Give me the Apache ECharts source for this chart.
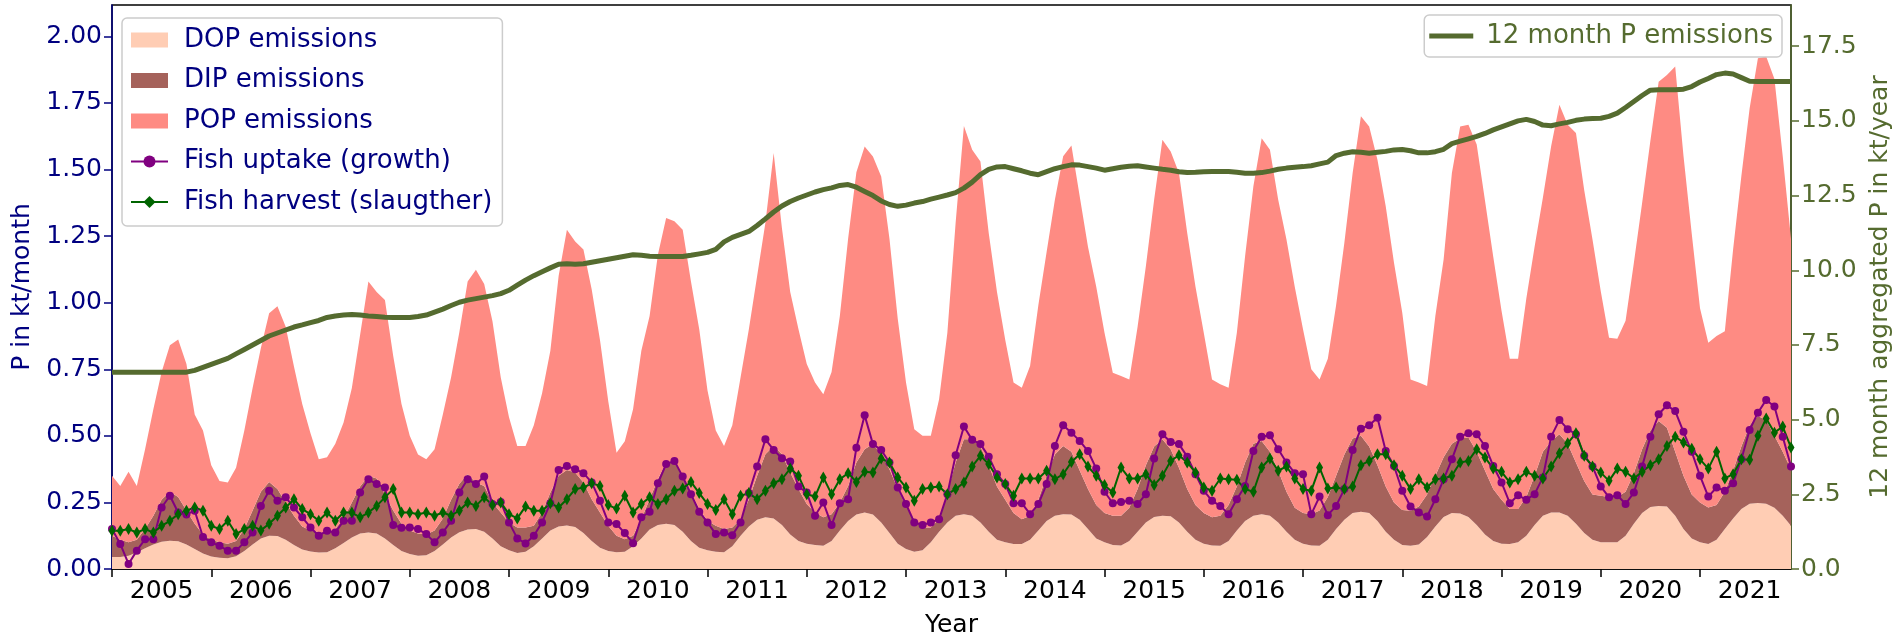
<!DOCTYPE html>
<html>
<head>
<meta charset="utf-8">
<title>P emissions and fish uptake</title>
<script src="https://cdn.jsdelivr.net/npm/echarts@6/dist/echarts.min.js"></script>
<style>
  html, body { margin: 0; padding: 0; background: #fff; }
  #chart { width: 1902px; height: 643px; }
</style>
</head>
<body>
<div id="chart"></div>
<script>
// monthly categories, Jan 2005 .. Dec 2021
const months = []
for (let y = 2005; y <= 2021; y++) {
  for (let m = 1; m <= 12; m++) months.push(y + '-' + String(m).padStart(2, '0'))
}

const dopLevel = [
  0.045, 0.045, 0.05, 0.062, 0.078, 0.092, 0.102, 0.106, 0.104, 0.092, 0.075, 0.058,
  0.047, 0.042, 0.04, 0.048, 0.068, 0.092, 0.115, 0.125, 0.124, 0.11, 0.09, 0.073,
  0.066, 0.062, 0.063, 0.078, 0.098, 0.118, 0.133, 0.137, 0.133, 0.115, 0.09, 0.068,
  0.056, 0.05, 0.052, 0.068, 0.092, 0.118, 0.138, 0.148, 0.15, 0.14, 0.115, 0.085,
  0.07, 0.06, 0.065, 0.085, 0.115, 0.145, 0.16, 0.163, 0.158, 0.135, 0.105, 0.08,
  0.068, 0.0625, 0.065, 0.085, 0.115, 0.148, 0.165, 0.17, 0.165, 0.14, 0.105, 0.08,
  0.07, 0.065, 0.0625, 0.085, 0.125, 0.16, 0.185, 0.194, 0.19, 0.165, 0.13, 0.105,
  0.095, 0.09, 0.087, 0.105, 0.145, 0.18, 0.205, 0.212, 0.205, 0.175, 0.135, 0.095,
  0.075, 0.065, 0.07, 0.1, 0.14, 0.175, 0.2, 0.206, 0.2, 0.175, 0.14, 0.11,
  0.1, 0.094, 0.094, 0.11, 0.145, 0.18, 0.2, 0.206, 0.205, 0.185, 0.15, 0.115,
  0.1, 0.09, 0.088, 0.105, 0.14, 0.175, 0.195, 0.2, 0.198, 0.175, 0.14, 0.11,
  0.095, 0.088, 0.087, 0.105, 0.145, 0.18, 0.2, 0.206, 0.2, 0.175, 0.14, 0.11,
  0.095, 0.088, 0.087, 0.11, 0.15, 0.185, 0.21, 0.215, 0.21, 0.18, 0.14, 0.11,
  0.09, 0.087, 0.092, 0.12, 0.16, 0.195, 0.21, 0.208, 0.195, 0.165, 0.13, 0.105,
  0.095, 0.094, 0.1, 0.125, 0.165, 0.2, 0.212, 0.212, 0.2, 0.17, 0.135, 0.11,
  0.1, 0.1, 0.1, 0.125, 0.17, 0.21, 0.233, 0.237, 0.235, 0.2, 0.15, 0.115,
  0.1, 0.094, 0.11, 0.15, 0.19, 0.225, 0.245, 0.248, 0.245, 0.23, 0.2, 0.162
]
const dipLevel = [
  0.125, 0.11, 0.1, 0.11, 0.15, 0.2, 0.26, 0.29, 0.27, 0.22, 0.17, 0.13,
  0.11, 0.1, 0.095, 0.105, 0.15, 0.22, 0.29, 0.327, 0.3, 0.25, 0.2, 0.16,
  0.145, 0.138, 0.137, 0.15, 0.19, 0.25, 0.31, 0.35, 0.34, 0.28, 0.22, 0.17,
  0.145, 0.133, 0.13, 0.145, 0.19, 0.26, 0.32, 0.356, 0.325, 0.312, 0.25, 0.212,
  0.175, 0.156, 0.156, 0.162, 0.212, 0.287, 0.35, 0.372, 0.362, 0.325, 0.262, 0.212,
  0.162, 0.125, 0.112, 0.125, 0.187, 0.262, 0.337, 0.4, 0.406, 0.35, 0.287, 0.225,
  0.181, 0.162, 0.15, 0.156, 0.187, 0.262, 0.35, 0.431, 0.462, 0.431, 0.362, 0.3,
  0.244, 0.212, 0.194, 0.206, 0.25, 0.312, 0.4, 0.45, 0.469, 0.431, 0.375, 0.3,
  0.237, 0.187, 0.156, 0.156, 0.187, 0.287, 0.4, 0.487, 0.487, 0.46, 0.39, 0.31,
  0.26, 0.21, 0.187, 0.2, 0.26, 0.35, 0.43, 0.462, 0.44, 0.37, 0.3, 0.24,
  0.21, 0.2, 0.2, 0.23, 0.3, 0.39, 0.46, 0.487, 0.45, 0.38, 0.3, 0.24,
  0.21, 0.194, 0.2, 0.24, 0.31, 0.4, 0.47, 0.481, 0.44, 0.37, 0.29, 0.23,
  0.21, 0.206, 0.22, 0.27, 0.35, 0.43, 0.49, 0.5, 0.46, 0.39, 0.31, 0.25,
  0.222, 0.219, 0.235, 0.28, 0.35, 0.42, 0.47, 0.49, 0.494, 0.44, 0.37, 0.3,
  0.26, 0.225, 0.225, 0.27, 0.35, 0.44, 0.48, 0.506, 0.47, 0.4, 0.33, 0.28,
  0.275, 0.27, 0.27, 0.29, 0.36, 0.45, 0.52, 0.556, 0.53, 0.44, 0.35, 0.28,
  0.25, 0.231, 0.24, 0.29, 0.37, 0.46, 0.54, 0.575, 0.56, 0.5, 0.44, 0.375
]
const totalLevel = [
  0.35, 0.312, 0.365, 0.312, 0.45, 0.6, 0.74, 0.84, 0.862, 0.77, 0.58, 0.52,
  0.39, 0.33, 0.325, 0.38, 0.52, 0.68, 0.83, 0.96, 0.987, 0.91, 0.76, 0.62,
  0.51, 0.412, 0.42, 0.47, 0.55, 0.68, 0.88, 1.08, 1.04, 1.01, 0.8, 0.62,
  0.5, 0.43, 0.412, 0.45, 0.58, 0.72, 0.89, 1.08, 1.124, 1.07, 0.93, 0.72,
  0.57, 0.462, 0.462, 0.54, 0.66, 0.82, 1.1, 1.274, 1.23, 1.2, 1.05, 0.86,
  0.63, 0.437, 0.48, 0.6, 0.82, 0.95, 1.18, 1.318, 1.306, 1.274, 1.08, 0.9,
  0.67, 0.52, 0.462, 0.54, 0.72, 0.9, 1.1, 1.3, 1.562, 1.28, 1.04, 0.9,
  0.77, 0.7, 0.656, 0.74, 0.95, 1.24, 1.49, 1.587, 1.549, 1.474, 1.24, 0.94,
  0.7, 0.525, 0.5, 0.5, 0.637, 0.887, 1.3, 1.664, 1.574, 1.53, 1.262, 1.04,
  0.86, 0.7, 0.681, 0.762, 0.99, 1.19, 1.387, 1.55, 1.59, 1.4, 1.21, 1.06,
  0.887, 0.737, 0.725, 0.712, 0.91, 1.137, 1.387, 1.612, 1.568, 1.487, 1.262, 1.06,
  0.887, 0.712, 0.694, 0.681, 0.887, 1.175, 1.437, 1.618, 1.574, 1.387, 1.237, 1.06,
  0.9, 0.75, 0.712, 0.79, 0.99, 1.225, 1.487, 1.7, 1.662, 1.537, 1.362, 1.15,
  0.962, 0.712, 0.7, 0.687, 0.95, 1.162, 1.487, 1.662, 1.668, 1.594, 1.384, 1.173,
  0.97, 0.79, 0.79, 1.016, 1.21, 1.394, 1.588, 1.743, 1.668, 1.637, 1.422, 1.237,
  1.043, 0.868, 0.865, 0.932, 1.149, 1.374, 1.608, 1.83, 1.855, 1.887, 1.552, 1.259,
  0.979, 0.85, 0.875, 0.893, 1.2, 1.476, 1.73, 1.918, 1.925, 1.84, 1.55, 1.24
]

// fish uptake (growth), kt/month
const uptake = [
  0.15, 0.094, 0.019, 0.069, 0.112, 0.112, 0.231, 0.275, 0.212, 0.205, 0.219, 0.12,
  0.1, 0.087, 0.069, 0.069, 0.1, 0.137, 0.237, 0.294, 0.256, 0.269, 0.231, 0.194,
  0.156, 0.125, 0.144, 0.137, 0.181, 0.181, 0.287, 0.337, 0.319, 0.306, 0.165, 0.155,
  0.156, 0.15, 0.131, 0.1, 0.137, 0.181, 0.287, 0.337, 0.319, 0.347, 0.244, 0.252,
  0.175, 0.115, 0.096, 0.125, 0.175, 0.247, 0.372, 0.387, 0.375, 0.36, 0.325, 0.256,
  0.175, 0.169, 0.135, 0.097, 0.194, 0.215, 0.322, 0.394, 0.406, 0.347, 0.281, 0.215,
  0.175, 0.131, 0.137, 0.127, 0.175, 0.285, 0.385, 0.487, 0.447, 0.416, 0.404, 0.31,
  0.287, 0.2, 0.25, 0.165, 0.247, 0.262, 0.455, 0.577, 0.469, 0.447, 0.4, 0.306,
  0.244, 0.175, 0.165, 0.175, 0.187, 0.281, 0.427, 0.535, 0.485, 0.469, 0.422, 0.356,
  0.319, 0.247, 0.247, 0.206, 0.244, 0.319, 0.462, 0.54, 0.512, 0.481, 0.443, 0.377,
  0.29, 0.247, 0.252, 0.256, 0.244, 0.281, 0.415, 0.506, 0.477, 0.469, 0.422, 0.356,
  0.294, 0.256, 0.237, 0.206, 0.262, 0.312, 0.443, 0.497, 0.502, 0.45, 0.4, 0.36,
  0.356, 0.206, 0.272, 0.202, 0.237, 0.3, 0.447, 0.527, 0.54, 0.568, 0.443, 0.387,
  0.294, 0.235, 0.212, 0.197, 0.262, 0.337, 0.412, 0.497, 0.51, 0.506, 0.462, 0.387,
  0.325, 0.247, 0.277, 0.26, 0.281, 0.344, 0.497, 0.56, 0.525, 0.506, 0.425, 0.385,
  0.31, 0.269, 0.277, 0.244, 0.287, 0.385, 0.497, 0.581, 0.615, 0.593, 0.515, 0.44,
  0.35, 0.272, 0.306, 0.294, 0.322, 0.412, 0.522, 0.587, 0.635, 0.61, 0.497, 0.385
]

// fish harvest (slaughter), kt/month
const harvest = [
  0.144, 0.144, 0.15, 0.137, 0.15, 0.137, 0.162, 0.181, 0.206, 0.219, 0.231, 0.219,
  0.162, 0.15, 0.181, 0.131, 0.15, 0.162, 0.145, 0.17, 0.2, 0.231, 0.262, 0.225,
  0.206, 0.181, 0.212, 0.181, 0.212, 0.212, 0.194, 0.212, 0.237, 0.269, 0.3, 0.212,
  0.212, 0.206, 0.212, 0.2, 0.212, 0.2, 0.22, 0.25, 0.237, 0.269, 0.24, 0.25,
  0.206, 0.19, 0.235, 0.219, 0.219, 0.247, 0.231, 0.262, 0.3, 0.306, 0.322, 0.312,
  0.24, 0.227, 0.275, 0.212, 0.244, 0.269, 0.244, 0.262, 0.294, 0.302, 0.327, 0.285,
  0.244, 0.222, 0.262, 0.206, 0.275, 0.285, 0.262, 0.294, 0.322, 0.337, 0.377, 0.35,
  0.281, 0.272, 0.344, 0.281, 0.337, 0.36, 0.327, 0.365, 0.362, 0.415, 0.4, 0.344,
  0.306, 0.256, 0.3, 0.306, 0.31, 0.281, 0.3, 0.325, 0.385, 0.425, 0.394, 0.344,
  0.319, 0.275, 0.34, 0.34, 0.34, 0.369, 0.337, 0.356, 0.402, 0.431, 0.385, 0.35,
  0.315, 0.287, 0.381, 0.34, 0.34, 0.356, 0.315, 0.35, 0.406, 0.427, 0.4, 0.362,
  0.306, 0.294, 0.34, 0.337, 0.335, 0.3, 0.29, 0.381, 0.415, 0.369, 0.385, 0.34,
  0.3, 0.294, 0.381, 0.302, 0.306, 0.3, 0.31, 0.39, 0.406, 0.431, 0.431, 0.39,
  0.35, 0.3, 0.337, 0.306, 0.337, 0.34, 0.35, 0.4, 0.406, 0.45, 0.419, 0.377,
  0.365, 0.325, 0.337, 0.365, 0.35, 0.34, 0.385, 0.435, 0.472, 0.51, 0.425, 0.385,
  0.362, 0.331, 0.377, 0.365, 0.34, 0.365, 0.39, 0.412, 0.462, 0.497, 0.475, 0.452,
  0.412, 0.377, 0.44, 0.34, 0.356, 0.412, 0.41, 0.5, 0.565, 0.512, 0.535, 0.456
]

// 12 month aggregated P emissions, kt/year (right axis)
const p12 = [
  6.59, 6.59, 6.59, 6.59, 6.59, 6.59, 6.59, 6.59, 6.59, 6.59, 6.65, 6.75,
  6.85, 6.95, 7.05, 7.2, 7.35, 7.5, 7.65, 7.8, 7.9, 8.0, 8.1, 8.17,
  8.25, 8.32, 8.42, 8.47, 8.5, 8.52, 8.5, 8.47, 8.45, 8.43, 8.42, 8.42,
  8.42, 8.45, 8.5, 8.6, 8.7, 8.82, 8.93, 9.0, 9.05, 9.1, 9.15, 9.22,
  9.33, 9.5, 9.67, 9.82, 9.95, 10.08, 10.2, 10.22, 10.2, 10.22, 10.27, 10.32,
  10.37, 10.42, 10.47, 10.52, 10.5, 10.47, 10.46, 10.46, 10.46, 10.46, 10.5, 10.55,
  10.6, 10.7, 10.95, 11.1, 11.2, 11.3, 11.5, 11.72, 11.95, 12.15, 12.3, 12.42,
  12.52, 12.62, 12.7, 12.76, 12.84, 12.87, 12.78, 12.64, 12.5, 12.32, 12.2, 12.14,
  12.18, 12.25, 12.3, 12.38, 12.45, 12.52, 12.6, 12.75, 12.95, 13.2, 13.38, 13.46,
  13.47, 13.4, 13.33, 13.25, 13.2, 13.3, 13.4, 13.47, 13.53, 13.52, 13.47, 13.42,
  13.35, 13.4, 13.45, 13.48, 13.5, 13.46, 13.42, 13.38, 13.35, 13.3, 13.27, 13.28,
  13.3, 13.31, 13.31, 13.31, 13.28, 13.25, 13.25, 13.27, 13.32, 13.38, 13.42, 13.45,
  13.47, 13.5, 13.56, 13.62, 13.84, 13.92, 13.97, 13.95, 13.92, 13.95, 13.98, 14.03,
  14.04, 14.0, 13.93, 13.93, 13.97, 14.05, 14.24, 14.32, 14.4, 14.48, 14.58, 14.7,
  14.8, 14.9, 15.0, 15.05, 14.98, 14.86, 14.84, 14.9, 14.95, 15.02, 15.06, 15.08,
  15.09, 15.15, 15.26, 15.45, 15.65, 15.85, 16.03, 16.04, 16.04, 16.04, 16.06, 16.15,
  16.3, 16.42, 16.55, 16.6, 16.57, 16.45, 16.33, 16.32, 16.32, 16.32, 16.32, 16.32
]

const leftTicks = [0, 0.25, 0.5, 0.75, 1.0, 1.25, 1.5, 1.75, 2.0]
const rightTicks = [0, 2.5, 5, 7.5, 10, 12.5, 15, 17.5]

// stack bands: each band is its level minus the one below
const dop = dopLevel
const dip = dipLevel.map((v, i) => +(v - dopLevel[i]).toFixed(4))
const pop = totalLevel.map((v, i) => +(v - dipLevel[i]).toFixed(4))

const FONT = 'DejaVu Sans'
const NAVY = '#000080'
const OLIVE = '#556b2f'

const chart = echarts.init(document.getElementById('chart'))

const areaSeries = (name, data, color) => ({
  name: name,
  type: 'line',
  stack: 'emis',
  data: data,
  color: color,
  symbol: 'none',
  lineStyle: { width: 0 },
  areaStyle: { color: color, opacity: 1 },
  emphasis: { disabled: true }
})

chart.setOption({
  animation: false,
  grid: {
    left: 112,
    right: 111,
    top: 5,
    bottom: 73,
    show: true,
    borderColor: '#000',
    borderWidth: 1.5
  },
  legend: [{
    orient: 'vertical',
    left: 122,
    top: 18,
    data: [
      { name: 'DOP emissions', icon: 'rect' },
      { name: 'DIP emissions', icon: 'rect' },
      { name: 'POP emissions', icon: 'rect' },
      'Fish uptake (growth)',
      'Fish harvest (slaugther)'
    ],
    itemWidth: 37,
    itemHeight: 15,
    itemGap: 10.5,
    padding: [7, 10, 9, 8],
    backgroundColor: 'rgba(255,255,255,0.8)',
    borderColor: '#cccccc',
    borderWidth: 1.5,
    borderRadius: 5,
    selectedMode: false,
    textStyle: {
      color: NAVY,
      fontFamily: FONT,
      fontSize: 26,
      lineHeight: 30,
      padding: [0, 0, 0, 11]
    }
  }, {
    right: 120,
    top: 15,
    data: [{ name: '12 month P emissions', icon: 'path://M0,0 L44,0 L44,5 L0,5 Z' }],
    itemWidth: 44,
    itemHeight: 15,
    padding: [6, 9, 6, 5],
    backgroundColor: 'rgba(255,255,255,0.8)',
    borderColor: '#cccccc',
    borderWidth: 1.5,
    borderRadius: 5,
    selectedMode: false,
    textStyle: {
      color: OLIVE,
      fontFamily: FONT,
      fontSize: 26,
      lineHeight: 30,
      padding: [0, 0, 0, 8]
    }
  }],
  xAxis: {
    type: 'category',
    data: months,
    boundaryGap: false,
    name: 'Year',
    nameLocation: 'middle',
    nameGap: 44,
    nameTextStyle: { color: '#000', fontFamily: FONT, fontSize: 25 },
    axisLine: { lineStyle: { color: '#000', width: 1.5 } },
    axisTick: {
      interval: (idx) => idx % 12 === 0,
      length: 8,
      lineStyle: { color: '#000', width: 1.5 }
    },
    axisLabel: {
      interval: (idx) => idx % 12 === 6,
      formatter: (v) => v.slice(0, 4),
      color: '#000',
      fontFamily: FONT,
      fontSize: 25,
      margin: 10
    },
    splitLine: { show: false }
  },
  yAxis: [{
    type: 'value',
    min: 0,
    max: 2.118,
    name: 'P in kt/month',
    nameLocation: 'middle',
    nameGap: 74,
    nameTextStyle: { color: NAVY, fontFamily: FONT, fontSize: 25 },
    axisLine: { show: true, lineStyle: { color: NAVY, width: 1.5 } },
    axisTick: { show: true, customValues: leftTicks, length: 8, lineStyle: { color: NAVY, width: 1.5 } },
    axisLabel: {
      customValues: leftTicks,
      formatter: (v) => v.toFixed(2),
      color: NAVY,
      fontFamily: FONT,
      fontSize: 25,
      margin: 10
    },
    splitLine: { show: false }
  }, {
    type: 'value',
    position: 'right',
    min: 0,
    max: 18.88,
    name: '12 month aggregated P in kt/year',
    nameLocation: 'middle',
    nameGap: 76,
    nameRotate: 90,
    nameTextStyle: { color: OLIVE, fontFamily: FONT, fontSize: 25 },
    axisLine: { show: true, lineStyle: { color: OLIVE, width: 1.5 } },
    axisTick: { show: true, customValues: rightTicks, length: 8, lineStyle: { color: OLIVE, width: 1.5 } },
    axisLabel: {
      customValues: rightTicks,
      formatter: (v) => v.toFixed(1),
      color: OLIVE,
      fontFamily: FONT,
      fontSize: 25,
      margin: 10
    },
    splitLine: { show: false }
  }],
  series: [
    areaSeries('DOP emissions', dop, '#ffcdb4'),
    areaSeries('DIP emissions', dip, '#a5625b'),
    areaSeries('POP emissions', pop, '#fe8b83'),
    {
      name: 'Fish uptake (growth)',
      type: 'line',
      data: uptake,
      color: '#800080',
      symbol: 'circle',
      symbolSize: 8,
      showAllSymbol: true,
      lineStyle: { width: 2, color: '#800080' },
      itemStyle: { color: '#800080' },
      emphasis: { disabled: true }
    },
    {
      name: 'Fish harvest (slaugther)',
      type: 'line',
      data: harvest,
      color: '#006400',
      symbol: 'diamond',
      symbolSize: [7, 12],
      showAllSymbol: true,
      lineStyle: { width: 2, color: '#006400' },
      itemStyle: { color: '#006400' },
      emphasis: { disabled: true }
    },
    {
      name: '12 month P emissions',
      type: 'line',
      yAxisIndex: 1,
      data: p12,
      color: OLIVE,
      symbol: 'none',
      lineStyle: { width: 5, color: OLIVE },
      emphasis: { disabled: true }
    }
  ]
})
</script>
</body>
</html>
